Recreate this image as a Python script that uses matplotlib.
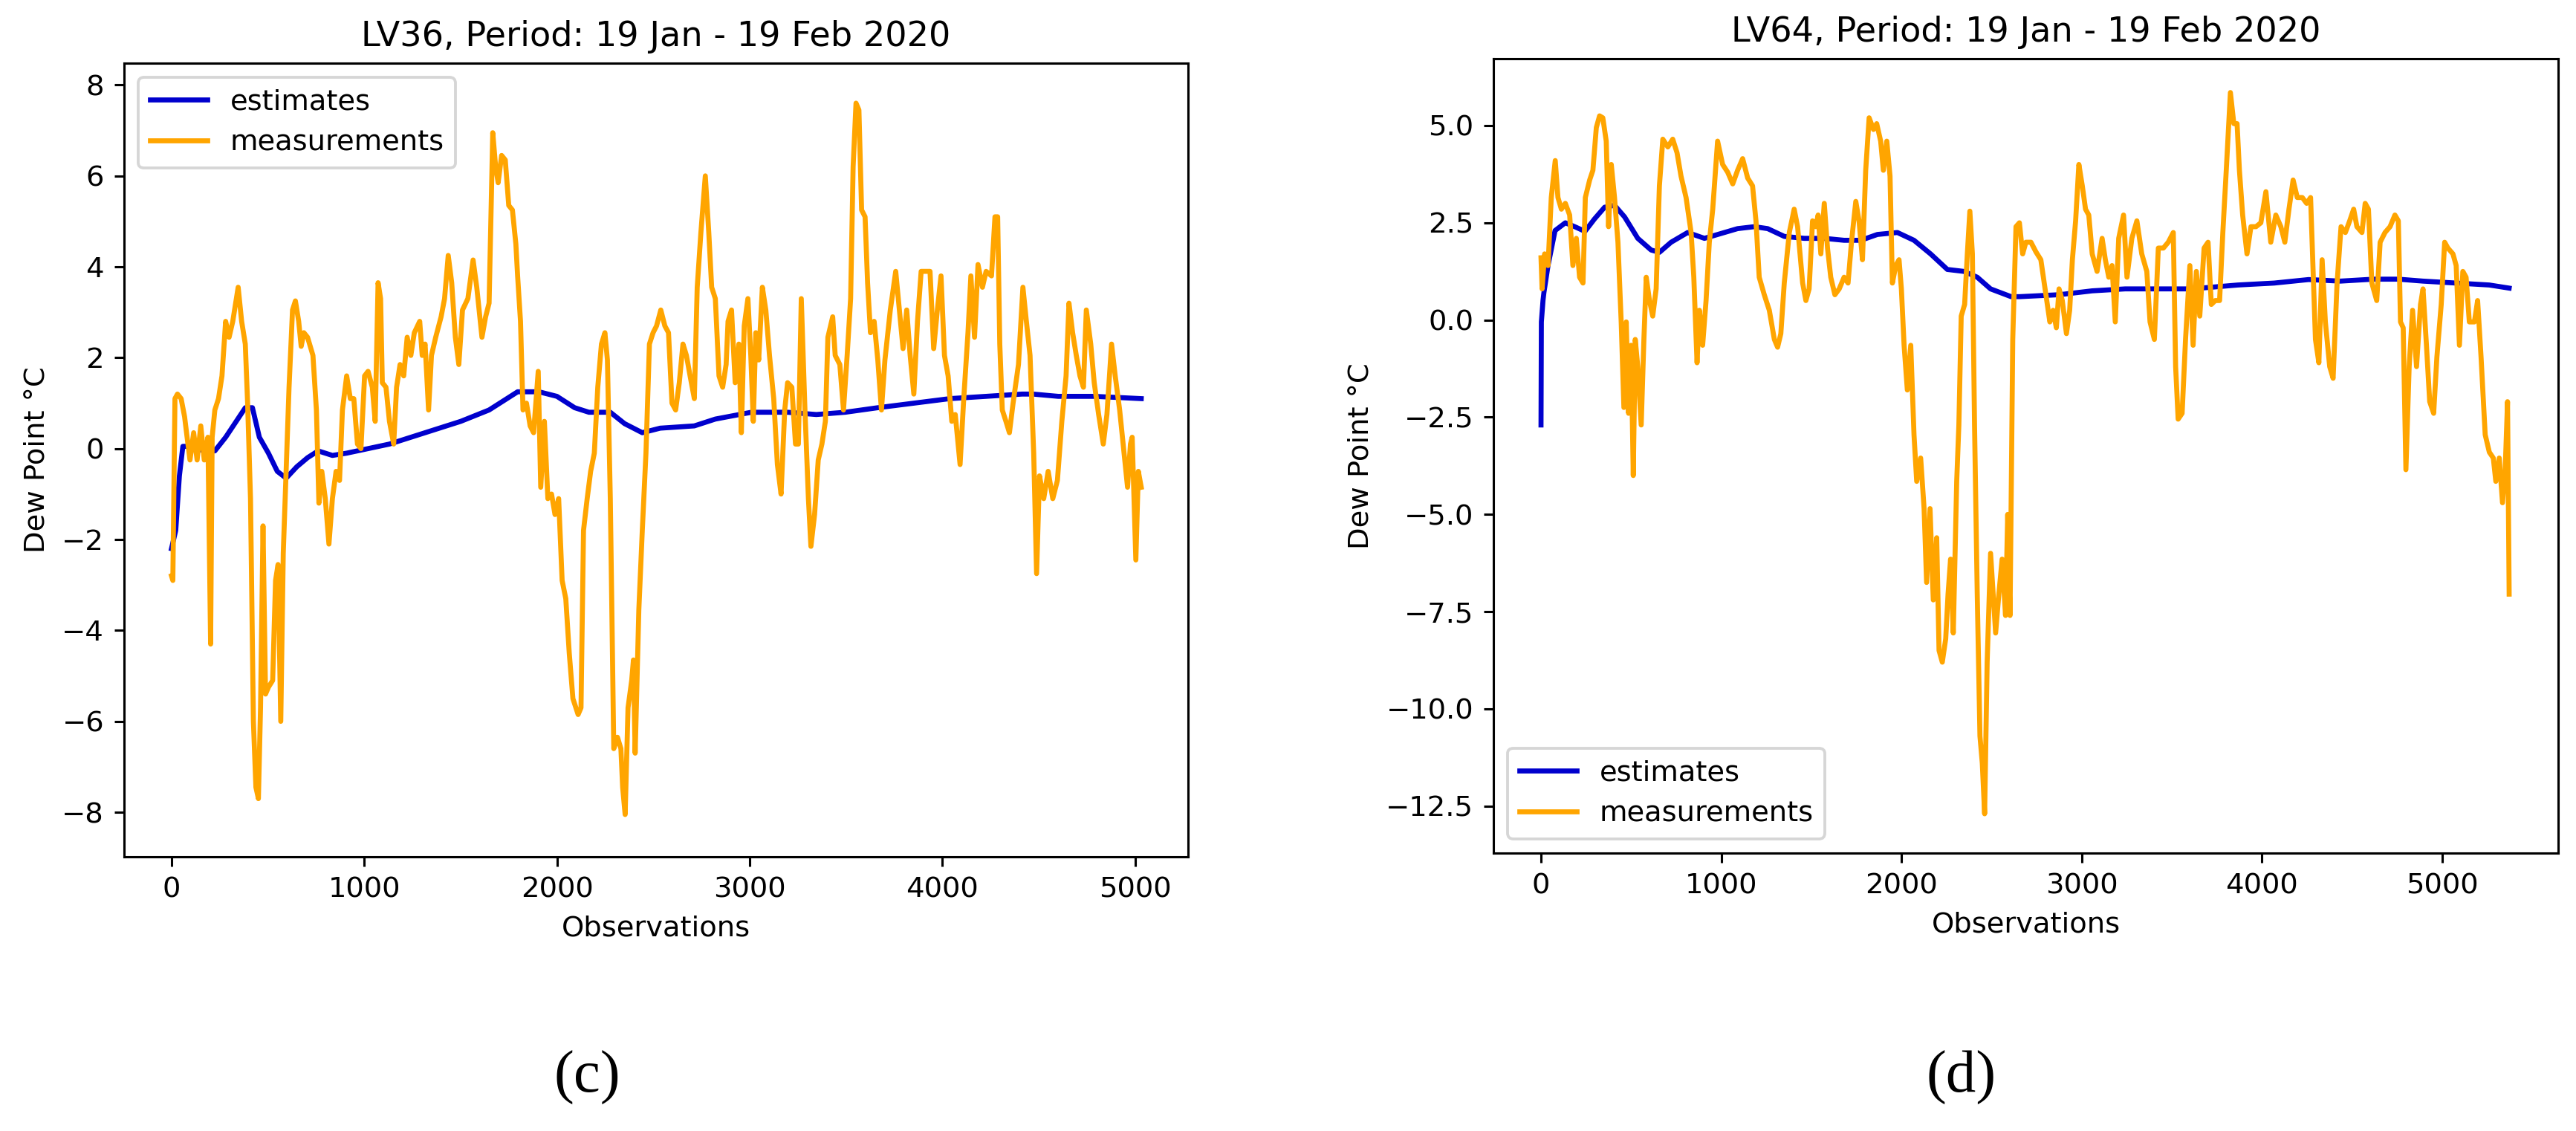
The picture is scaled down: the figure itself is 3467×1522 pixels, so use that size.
import matplotlib
matplotlib.use("Agg")
import matplotlib.pyplot as plt
import numpy as np

# ---------------- LV36 (panel c) ----------------
lv36_meas_x = [0, 7, 18, 31, 50, 68, 81, 96, 115, 133, 152, 170, 189, 203, 211, 225, 244, 262, 281, 299,
               318, 346, 364, 383, 395, 410, 425, 438, 451, 462, 475, 488, 503, 525, 540, 553, 567, 580, 595, 610,
               628, 643, 660, 673, 687, 706, 734, 752, 765, 780, 798, 817, 835, 854, 872, 887, 909, 928, 946, 965,
               983, 1002, 1020, 1042, 1057, 1072, 1085, 1094, 1113, 1131, 1153, 1168, 1186, 1205, 1223, 1242, 1260, 1288, 1301, 1316,
               1334, 1349, 1371, 1399, 1417, 1436, 1454, 1473, 1491, 1510, 1538, 1565, 1584, 1611, 1630, 1648, 1667, 1682, 1695, 1713,
               1732, 1750, 1769, 1787, 1796, 1811, 1824, 1842, 1861, 1879, 1903, 1916, 1935, 1953, 1972, 1990, 2009, 2027, 2046, 2064,
               2083, 2110, 2125, 2138, 2157, 2175, 2194, 2212, 2231, 2249, 2262, 2277, 2295, 2314, 2332, 2341, 2354, 2369, 2388, 2397,
               2406, 2425, 2443, 2462, 2480, 2499, 2517, 2539,
               2560, 2579, 2597, 2616, 2635, 2654, 2672, 2691, 2713, 2728, 2747, 2770, 2788, 2803, 2822, 2841, 2860, 2878, 2888, 2906,
               2925, 2944, 2957, 2972, 2991, 3006, 3019, 3032, 3047, 3066, 3084, 3103, 3125, 3144, 3163, 3182, 3197, 3219, 3238, 3253,
               3268, 3287, 3305, 3318, 3337, 3356, 3375, 3393, 3406, 3431, 3444, 3468, 3487, 3506, 3524, 3537, 3552, 3567, 3581, 3599,
               3612, 3627, 3646, 3665, 3684, 3702, 3730, 3758, 3777, 3796, 3815, 3833, 3852, 3871, 3890, 3918, 3936, 3955, 3974, 3993,
               4011, 4030, 4049, 4067, 4092, 4111, 4133, 4148, 4167, 4185, 4208, 4227, 4255, 4273, 4287, 4298, 4311, 4330, 4348, 4367,
               4395, 4418, 4436, 4455, 4474, 4489, 4504, 4526, 4549, 4573, 4597, 4620, 4642, 4657, 4676, 4695, 4714, 4732, 4747, 4770,
               4788, 4811, 4835, 4854, 4878, 4897, 4920, 4938, 4961, 4976, 4985, 5004, 5017, 5032]
lv36_meas_y = [-2.8, -2.9, 1.1, 1.2, 1.1, 0.7, 0.25, -0.25, 0.35, -0.25, 0.5, -0.25, 0.25, -4.3, 0.25, 0.85, 1.1, 1.6, 2.8, 2.45,
               2.8, 3.55, 2.8, 2.3, 1.0, -1.1, -6.0, -7.45, -7.7, -5.7, -1.7, -5.4, -5.25, -5.1, -2.9, -2.55, -6.0, -2.3, -0.5, 1.35,
               3.05, 3.25, 2.8, 2.25, 2.55, 2.45, 2.05, 0.85, -1.2, -0.5, -1.1, -2.1, -1.1, -0.5, -0.7, 0.85, 1.6, 1.1, 1.1, 0.1,
               0.0, 1.6, 1.7, 1.35, 0.6, 3.65, 3.3, 1.45, 1.35, 0.6, 0.1, 1.35, 1.85, 1.6, 2.45, 2.05, 2.55, 2.8, 2.05, 2.3,
               0.85, 2.05, 2.45, 2.9, 3.3, 4.25, 3.65, 2.45, 1.85, 3.05, 3.3, 4.15, 3.55, 2.45, 2.9, 3.2, 6.95, 6.2, 5.85, 6.45,
               6.35, 5.35, 5.25, 4.5, 3.8, 2.8, 0.85, 1.0, 0.5, 0.35, 1.7, -0.85, 0.6, -1.1, -1.0, -1.45, -1.1, -2.9, -3.3, -4.5,
               -5.5, -5.85, -5.7, -1.8, -1.1, -0.5, -0.1, 1.35, 2.3, 2.55, 1.95, -1.1, -6.6, -6.35, -6.6, -7.45, -8.05, -5.7, -5.1, -4.65,
               -6.7, -3.55, -1.8, -0.1, 2.3, 2.55, 2.7, 3.05,
               2.7, 2.55, 1.0, 0.85, 1.45, 2.3, 2.05, 1.6, 1.1, 3.55, 4.75, 6.0, 4.75, 3.55, 3.3, 1.6, 1.35, 1.85, 2.8, 3.05,
               1.45, 2.3, 0.35, 2.7, 3.3, 2.05, 0.6, 2.55, 1.95, 3.55, 3.05, 2.05, 1.1, -0.35, -1.0, 0.85, 1.45, 1.35, 0.1, 0.1,
               3.3, 0.85, -1.1, -2.15, -1.45, -0.25, 0.1, 0.6, 2.45, 2.9, 2.05, 1.85, 0.85, 2.05, 3.3, 6.2, 7.6, 7.45, 5.25, 5.1,
               3.65, 2.55, 2.8, 1.95, 0.85, 1.95, 3.05, 3.9, 3.05, 2.2, 3.05, 2.05, 1.2, 2.8, 3.9, 3.9, 3.9, 2.2, 3.05, 3.8,
               2.05, 1.6, 0.6, 0.75, -0.35, 1.1, 2.55, 3.8, 2.45, 4.05, 3.55, 3.9, 3.8, 5.1, 5.1, 2.3, 0.85, 0.6, 0.35, 1.0,
               1.85, 3.55, 2.8, 2.05, -0.1, -2.75, -0.6, -1.1, -0.5, -1.1, -0.7, 0.6, 1.6, 3.2, 2.55, 2.05, 1.6, 1.35, 3.05, 2.3,
               1.45, 0.75, 0.1, 0.75, 2.3, 1.6, 0.85, 0.1, -0.85, 0.1, 0.25, -2.45, -0.5, -0.85]

lv36_est_x = [0, 22, 41, 59, 96, 170, 225, 281, 336, 383, 420, 456, 503, 549, 595, 650, 706, 761, 835, 909,
              1020, 1131, 1242, 1390, 1501, 1648, 1722, 1796, 1907, 2000, 2092, 2166, 2277, 2351, 2443, 2536,
              2713, 2822, 3009, 3197, 3346, 3496, 3665, 3852, 4039, 4227, 4414, 4470, 4601, 4788, 5032]
lv36_est_y = [-2.2, -1.8, -0.6, 0.05, 0.05, -0.05, -0.05, 0.25, 0.6, 0.9, 0.9, 0.25, -0.1, -0.5, -0.65, -0.4, -0.2, -0.05, -0.15, -0.1,
              0.0, 0.1, 0.25, 0.45, 0.6, 0.85, 1.05, 1.25, 1.25, 1.15, 0.9, 0.8, 0.8, 0.55, 0.35, 0.45,
              0.5, 0.65, 0.8, 0.8, 0.75, 0.8, 0.9, 1.0, 1.1, 1.15, 1.2, 1.2, 1.15, 1.15, 1.1]

# ---------------- LV64 (panel d) ----------------
lv64_meas_x = [0, 6, 20, 39, 57, 79, 94, 113, 135, 159, 177, 196, 214, 233, 246, 270, 288, 307, 325, 343,
               362, 375, 390, 408, 427, 445, 460, 473, 486, 500, 512, 523, 537, 556, 571, 584, 602, 620, 639, 657,
               676, 704, 731, 755, 777, 805, 833, 848, 866, 879, 897, 916, 934, 953, 980, 1008, 1036, 1064, 1091, 1119,
               1147, 1174, 1193, 1211, 1239, 1267, 1295, 1313, 1331, 1350, 1378, 1405, 1424, 1452, 1470, 1488, 1507, 1525, 1538, 1553,
               1572, 1590, 1608, 1631, 1655, 1682, 1704, 1723, 1747, 1765, 1784, 1802, 1821, 1845, 1863, 1885, 1900, 1919, 1937, 1950,
               1969, 1987, 2000, 2015, 2033, 2052, 2070, 2085, 2107, 2126, 2140, 2159, 2177, 2196, 2209, 2227, 2246, 2259, 2273, 2288,
               2307, 2319, 2332, 2351, 2366, 2380, 2394, 2406, 2421, 2436, 2449, 2462, 2476, 2495,
               2523, 2541, 2559, 2578, 2590, 2603, 2618, 2636, 2655, 2673, 2691, 2719, 2747, 2774, 2802, 2824, 2842, 2860, 2875, 2893,
               2916, 2934, 2949, 2967, 2985, 3004, 3022, 3040, 3059, 3086, 3114, 3132, 3151, 3169, 3187, 3206, 3233, 3252, 3279, 3307,
               3334, 3362, 3380, 3404, 3426, 3454, 3481, 3509, 3522, 3536, 3558, 3577, 3601, 3619, 3637, 3656, 3680, 3702, 3720, 3742,
               3766, 3784, 3803, 3826, 3845, 3863, 3876, 3894, 3918, 3940, 3968, 3995, 4023, 4050, 4078, 4106, 4128, 4151, 4174, 4197,
               4225, 4249, 4271, 4286, 4298, 4317, 4335, 4353, 4377, 4396, 4418, 4440, 4464, 4488, 4510, 4528, 4556, 4574, 4592, 4611,
               4638, 4657, 4684, 4712, 4739, 4758, 4770, 4785, 4800, 4818, 4837, 4859, 4881, 4895, 4914, 4932, 4954, 4972, 4996, 5015,
               5033, 5061, 5079, 5097, 5116, 5134, 5152, 5180, 5198, 5217, 5240, 5263, 5285, 5299, 5318, 5336, 5351, 5364, 5373]
lv64_meas_y = [1.6, 0.8, 1.7, 1.4, 3.15, 4.1, 3.15, 2.85, 3.0, 2.7, 1.4, 2.1, 1.1, 0.95, 3.15, 3.6, 3.85, 4.95, 5.25, 5.2,
               4.6, 2.4, 4.0, 3.15, 2.0, -0.05, -2.25, -0.05, -2.4, -0.65, -4.0, -0.5, -1.2, -2.7, -0.5, 1.1, 0.5, 0.1, 0.8, 3.45,
               4.65, 4.45, 4.65, 4.3, 3.7, 3.15, 2.25, 1.1, -1.1, 0.25, -0.65, 0.5, 2.0, 2.85, 4.6, 4.0, 3.8, 3.5, 3.85, 4.15,
               3.65, 3.45, 2.55, 1.1, 0.65, 0.25, -0.5, -0.7, -0.35, 0.95, 2.25, 2.85, 2.4, 0.95, 0.5, 0.8, 2.55, 2.4, 2.7, 1.7,
               3.0, 1.85, 1.1, 0.65, 0.8, 1.1, 0.95, 2.0, 3.05, 2.55, 1.55, 3.85, 5.2, 4.9, 5.05, 4.6, 3.85, 4.6, 3.7, 0.95,
               1.4, 1.55, 0.8, -0.65, -1.8, -0.65, -2.95, -4.15, -3.55, -4.85, -6.75, -4.85, -7.2, -5.6, -8.5, -8.8, -8.2, -7.05, -6.15, -8.05,
               -4.15, -2.7, 0.1, 0.4, 1.7, 2.8, 1.7, -2.7, -7.05, -10.7, -11.4, -12.7, -8.8, -6.0,
               -8.05, -7.05, -6.15, -7.6, -5.0, -7.6, -0.5, 2.4, 2.5, 1.7, 2.0, 2.0, 1.75, 1.55, 0.65, -0.05, 0.25, -0.2, 0.8, 0.5,
               -0.35, 0.25, 1.55, 2.55, 4.0, 3.45, 2.85, 2.7, 1.7, 1.25, 2.1, 1.55, 1.1, 1.4, -0.05, 2.1, 2.7, 1.1, 2.1, 2.55,
               1.7, 1.25, -0.05, -0.5, 1.85, 1.85, 2.0, 2.25, -1.2, -2.55, -2.4, -0.5, 1.4, -0.65, 1.25, 0.1, 1.85, 2.0, 0.4, 0.5,
               0.5, 2.25, 3.85, 5.85, 5.05, 5.05, 3.85, 2.7, 1.7, 2.4, 2.4, 2.5, 3.3, 2.0, 2.7, 2.4, 2.0, 2.85, 3.6, 3.15,
               3.15, 3.0, 3.15, 1.1, -0.5, -1.1, 1.55, -0.05, -1.2, -1.5, 0.95, 2.4, 2.25, 2.55, 2.85, 2.4, 2.25, 3.0, 2.85, 0.95,
               0.5, 2.0, 2.25, 2.4, 2.7, 2.55, -0.05, -0.2, -3.85, -1.2, 0.25, -1.2, 0.4, 0.8, -0.65, -2.1, -2.4, -0.95, 0.4, 2.0,
               1.85, 1.7, 1.4, -0.65, 1.25, 1.1, -0.05, -0.05, 0.5, -0.95, -2.95, -3.4, -3.55, -4.15, -3.55, -4.7, -3.85, -2.1, -7.05]

lv64_est_x = [0, 2, 11, 16, 39, 78, 135, 187, 244, 297, 353, 408, 464, 537, 611, 657, 722, 814, 907, 981,
              1091, 1184, 1258, 1350, 1461, 1572, 1682, 1775, 1867, 1978, 2070, 2162, 2255, 2347, 2421, 2495,
              2609, 2655, 2875, 3059, 3242, 3426, 3610, 3867, 4069, 4260, 4436, 4620, 4758, 4895, 5079, 5263, 5373]
lv64_est_y = [-2.7, -0.05, 0.5, 0.7, 1.4, 2.3, 2.5, 2.4, 2.28, 2.6, 2.9, 2.95, 2.65, 2.1, 1.8, 1.74, 2.0, 2.25, 2.1, 2.2,
              2.35, 2.4, 2.35, 2.15, 2.1, 2.1, 2.05, 2.05, 2.2, 2.25, 2.05, 1.7, 1.3, 1.25, 1.1, 0.8,
              0.6, 0.6, 0.65, 0.75, 0.8, 0.8, 0.8, 0.9, 0.95, 1.04, 1.0, 1.05, 1.05, 1.0, 0.95, 0.9, 0.82]

panels = [
    dict(mx=lv36_meas_x, my=lv36_meas_y, ex=lv36_est_x, ey=lv36_est_y,
         title="LV36, Period: 19 Jan - 19 Feb 2020", loc="upper left",
         rect=[167, 85, 1599, 1153], xlim=(-246, 5275), ylim=(-8.98, 8.48),
         yticks=[-8, -6, -4, -2, 0, 2, 4, 6, 8], tag="(c)", tagxy=(790, 1450)),
    dict(mx=lv64_meas_x, my=lv64_meas_y, ex=lv64_est_x, ey=lv64_est_y,
         title="LV64, Period: 19 Jan - 19 Feb 2020", loc="lower left",
         rect=[2010, 79, 3443, 1148], xlim=(-264, 5645), ylim=(-13.71, 6.72),
         yticks=[-12.5, -10.0, -7.5, -5.0, -2.5, 0.0, 2.5, 5.0], tag="(d)", tagxy=(2640, 1450)),
]

W, H = 3467, 1522
DPI = 277.36
fig = plt.figure(figsize=(W / DPI, H / DPI), dpi=DPI)

for p in panels:
    x0, y0, x1, y1 = p["rect"]
    ax = fig.add_axes([x0 / W, 1 - y1 / H, (x1 - x0) / W, (y1 - y0) / H])
    ax.plot(p["ex"], p["ey"], color="mediumblue", lw=1.75, label="estimates")
    ax.plot(p["mx"], p["my"], color="orange", lw=1.75, label="measurements")
    ax.set_xlim(*p["xlim"])
    ax.set_ylim(*p["ylim"])
    ax.set_xticks([0, 1000, 2000, 3000, 4000, 5000])
    ax.set_yticks(p["yticks"])
    ax.set_title(p["title"], fontsize=12)
    ax.set_xlabel("Observations", fontsize=10)
    ax.set_ylabel("Dew Point °C", fontsize=10)
    ax.legend(loc=p["loc"], fontsize=10)
    tx, ty = p["tagxy"]
    fig.text(tx / W, 1 - ty / H, p["tag"], ha="center", va="center",
             fontsize=21, family="Liberation Serif")

fig.savefig("out.png", dpi=DPI, facecolor="white")
